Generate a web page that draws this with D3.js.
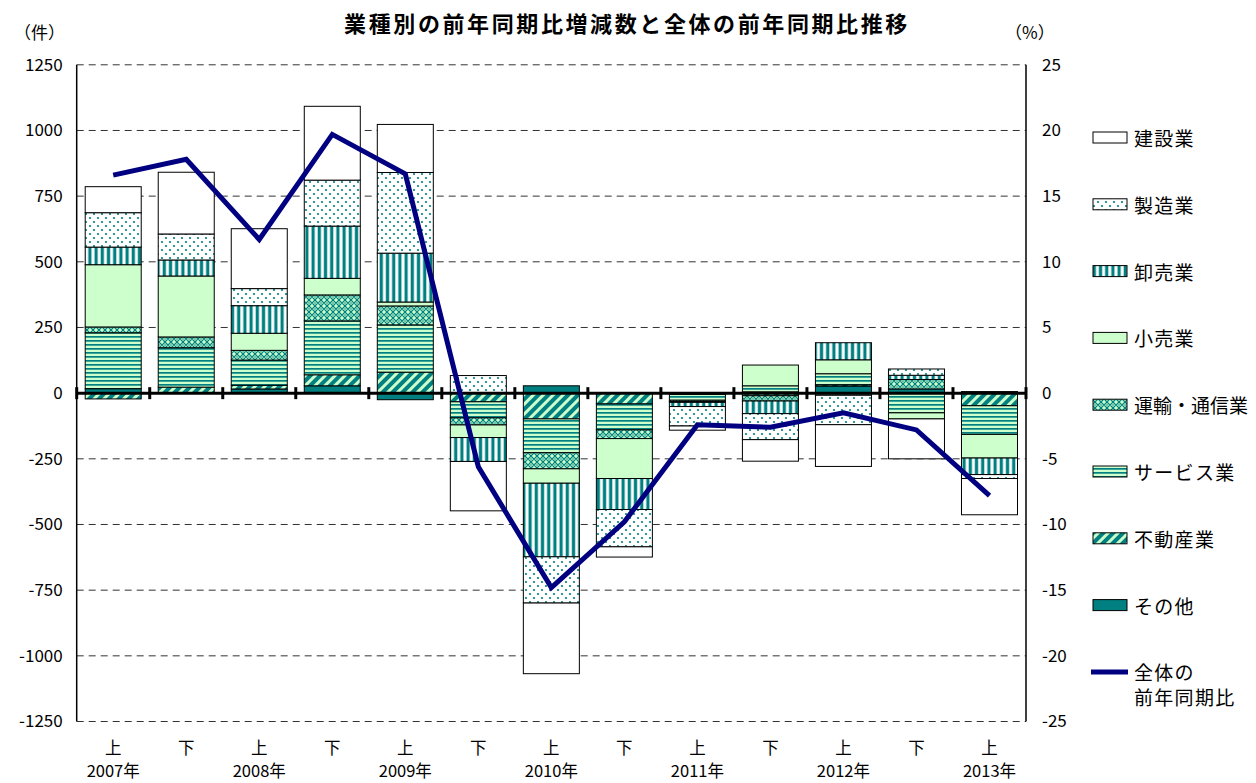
<!DOCTYPE html>
<html><head><meta charset="utf-8">
<script src="https://cdn.jsdelivr.net/npm/d3@7/dist/d3.min.js"></script>
<style>
html,body{margin:0;padding:0;background:#fff;}
svg{display:block;font-family:"Noto Sans CJK JP","Noto Sans",sans-serif;}
</style></head>
<body>
<svg id="chart" width="1256" height="783"></svg>
<script>
// ---- data ----
const periods = ["上","下","上","下","上","下","上","下","上","下","上","下","上"];
const years   = ["2007年","","2008年","","2009年","","2010年","","2011年","","2012年","","2013年"];
const seriesNames = ["その他","不動産業","サービス業","運輸・通信業","小売業","卸売業","製造業","建設業"];
const other        = [17, 0, 16, 28, -25, 0, 28, 0, 0, 5, 27, 16, 0];
const realEstate   = [-22, 23, 14, 42, 80, -33, -98, -41, -5, -10, 5, 0, -48];
const services     = [213, 150, 96, 205, 180, -61, -129, -99, -22, 23, 42, -75, -109];
const transport    = [22, 41, 37, 99, 72, -27, -61, -33, -5, -20, -8, 36, 6];
const retail       = [237, 232, 65, 63, 15, -48, -55, -152, -3, 79, 53, -23, -90];
const wholesale    = [67, 61, 105, 199, 186, -91, -280, -118, -16, -48, 65, 16, -63];
const manufacturing= [131, 99, 65, 175, 307, 67, -176, -142, -74, -99, -112, 24, -15];
const construction = [99, 235, 228, 281, 183, -188, -269, -39, -16, -82, -159, -152, -138];
const totalYoY     = [16.6, 17.8, 11.7, 19.7, 16.7, -5.6, -14.8, -9.8, -2.4, -2.6, -1.5, -2.8, -7.8];
const leftTicks    = [1250,1000,750,500,250,0,-250,-500,-750,-1000,-1250];
const leftTickLabels = ["1250","1000","750","500","250","0","-250","-500","-750","-1000","-1250"];
const rightTicks   = [25,20,15,10,5,0,-5,-10,-15,-20,-25];
const rightTickLabels = ["25","20","15","10","5","0","-5","-10","-15","-20","-25"];
const legendOrder  = ["建設業","製造業","卸売業","小売業","運輸・通信業","サービス業","不動産業","その他"];
const lineLegend   = ["全体の","前年同期比"];
const titleText = "業種別の前年同期比増減数と全体の前年同期比推移";

const seriesValues = [other, realEstate, services, transport, retail, wholesale, manufacturing, construction];

// ---- layout ----
const L = 76.7, R = 1026, T = 64.8, B = 721.5;
const TEAL = "#008080", PALE = "#ccffcc";
const svg = d3.select("#chart");

const idx = d3.range(periods.length);
const x = d3.scaleBand().domain(idx).range([L, R]).paddingInner(0.233).paddingOuter(0.1165);
const band = (R - L) / periods.length;
const yL = d3.scaleLinear().domain([-1250, 1250]).range([B, T]);
const yR = d3.scaleLinear().domain([-25, 25]).range([B, T]);

// ---- patterns ----
const defs = svg.append("defs");
const pid = {"不動産業":"p-re","サービス業":"p-svc","運輸・通信業":"p-trn","卸売業":"p-whl","製造業":"p-mfg"};
let p = defs.append("pattern").attr("id","p-mfg").attr("patternUnits","userSpaceOnUse").attr("width",8).attr("height",8);
p.append("rect").attr("width",8).attr("height",8).attr("fill","#fff");
p.append("circle").attr("cx",2).attr("cy",2).attr("r",1.1).attr("fill",TEAL);
p.append("circle").attr("cx",6).attr("cy",6).attr("r",1.1).attr("fill",TEAL);
p = defs.append("pattern").attr("id","p-whl").attr("patternUnits","userSpaceOnUse").attr("width",6.2).attr("height",6);
p.append("rect").attr("width",6.2).attr("height",6).attr("fill","#fff");
p.append("rect").attr("x",1.5).attr("width",3.2).attr("height",6).attr("fill",TEAL);
p = defs.append("pattern").attr("id","p-svc").attr("patternUnits","userSpaceOnUse").attr("width",6).attr("height",4);
p.append("rect").attr("width",6).attr("height",4).attr("fill",PALE);
p.append("rect").attr("y",0).attr("width",6).attr("height",1.7).attr("fill",TEAL);
p = defs.append("pattern").attr("id","p-trn").attr("patternUnits","userSpaceOnUse").attr("width",6).attr("height",6);
p.append("rect").attr("width",6).attr("height",6).attr("fill",PALE);
p.append("path").attr("d","M0,3 L3,0 L6,3 L3,6 Z").attr("fill","none").attr("stroke",TEAL).attr("stroke-width",1.2);
p.append("circle").attr("cx",3).attr("cy",3).attr("r",0.8).attr("fill",TEAL);
p = defs.append("pattern").attr("id","p-re").attr("patternUnits","userSpaceOnUse").attr("width",7).attr("height",7).attr("patternTransform","rotate(45)");
p.append("rect").attr("width",7).attr("height",7).attr("fill",PALE);
p.append("rect").attr("width",4).attr("height",7).attr("fill",TEAL);

const fillFor = name => {
  if (name === "その他") return TEAL;
  if (name === "小売業") return PALE;
  if (name === "建設業") return "#fff";
  return "url(#" + pid[name] + ")";
};

// ---- gridlines ----
const grid = svg.append("g");
grid.selectAll("line").data(leftTicks.filter(v => v !== 0)).join("line")
  .attr("x1", L).attr("x2", R).attr("y1", d => yL(d)).attr("y2", d => yL(d))
  .attr("stroke", "#333").attr("stroke-width", 1).attr("stroke-dasharray", "7,5");

// ---- stacked bars ----
const table = idx.map(i => { const o = {i}; seriesNames.forEach((n, k) => o[n] = seriesValues[k][i]); return o; });
const stack = d3.stack().keys(seriesNames).offset(d3.stackOffsetDiverging)(table);
const gBars = svg.append("g");
stack.forEach(s => {
  gBars.append("g").selectAll("rect").data(s.filter(d => d[1] !== d[0])).join("rect")
    .attr("x", d => x(d.data.i))
    .attr("width", x.bandwidth())
    .attr("y", d => yL(Math.max(d[0], d[1])))
    .attr("height", d => Math.abs(yL(d[0]) - yL(d[1])))
    .attr("fill", fillFor(s.key))
    .attr("stroke", "#000").attr("stroke-width", 1);
});

// ---- plot border ----
svg.append("line").attr("x1", L).attr("x2", L).attr("y1", T).attr("y2", B).attr("stroke", "#000").attr("stroke-width", 1.5);
svg.append("line").attr("x1", R).attr("x2", R).attr("y1", T).attr("y2", B).attr("stroke", "#000").attr("stroke-width", 1.5);

// ---- zero axis with ticks ----
const y0 = yL(0);
svg.append("line").attr("x1", L).attr("x2", R).attr("y1", y0).attr("y2", y0).attr("stroke", "#000").attr("stroke-width", 3);
svg.append("g").selectAll("line").data(d3.range(periods.length + 1)).join("line")
  .attr("x1", d => L + d * band).attr("x2", d => L + d * band)
  .attr("y1", y0 - 6).attr("y2", y0 + 6)
  .attr("stroke", "#000").attr("stroke-width", 3);

// ---- line ----
const line = d3.line().x((d, i) => x(i) + x.bandwidth() / 2).y(d => yR(d));
svg.append("path").datum(totalYoY).attr("d", line)
  .attr("fill", "none").attr("stroke", "#000080").attr("stroke-width", 5).attr("stroke-linejoin", "miter");

// ---- axes ----
const axL = svg.append("g").attr("transform", `translate(${L - 14},0)`)
  .call(d3.axisLeft(yL).tickValues(leftTicks).tickFormat((d, i) => leftTickLabels[i]).tickSize(0).tickPadding(0));
axL.select(".domain").remove();
axL.selectAll("text").attr("font-size", 17).attr("fill", "#000").attr("font-family", "'Noto Sans CJK JP',sans-serif");

const axR = svg.append("g").attr("transform", `translate(${R + 16},0)`)
  .call(d3.axisRight(yR).tickValues(rightTicks).tickFormat((d, i) => rightTickLabels[i]).tickSize(0).tickPadding(0));
axR.select(".domain").remove();
axR.selectAll("text").attr("font-size", 17).attr("fill", "#000").attr("font-family", "'Noto Sans CJK JP',sans-serif");

// x labels
const xl = svg.append("g");
xl.selectAll("text.p").data(periods).join("text").attr("class", "p")
  .attr("x", (d, i) => x(i) + x.bandwidth() / 2).attr("y", 754)
  .attr("text-anchor", "middle")
  .attr("font-size", 16.5).text(d => d);
xl.selectAll("text.y").data(years).join("text").attr("class", "y")
  .attr("x", (d, i) => x(i) + x.bandwidth() / 2).attr("y", 777)
  .attr("text-anchor", "middle")
  .attr("font-size", 16.5).text(d => d);

// units
svg.append("text").attr("x", 14).attr("y", 31).attr("dominant-baseline", "central").attr("font-size", 17).text("（件）");
svg.append("text").attr("x", 1005).attr("y", 31).attr("dominant-baseline", "central").attr("font-size", 17).text("（%）");

// title
svg.append("text").attr("x", 627).attr("y", 22).attr("text-anchor", "middle").attr("dominant-baseline", "central")
  .attr("font-size", 22).attr("font-weight", "bold").attr("letter-spacing", "2.6px").text(titleText);

// ---- legend ----
const lg = svg.append("g");
const legY = d3.scaleLinear().domain([0, 1]).range([137.5, 204.3]);
legendOrder.forEach((name, i) => {
  const cy = legY(i);
  lg.append("rect").attr("x", 1093).attr("y", cy - 5.5).attr("width", 34).attr("height", 11)
    .attr("fill", fillFor(name)).attr("stroke", "#000").attr("stroke-width", 1);
  lg.append("text").attr("x", 1134).attr("y", cy).attr("dominant-baseline", "central")
    .attr("font-size", 19).attr("letter-spacing", name.length > 5 ? "0px" : "1.3px").text(name);
});
const ly = legY(legendOrder.length);
lg.append("line").attr("x1", 1091).attr("x2", 1128).attr("y1", ly).attr("y2", ly)
  .attr("stroke", "#000080").attr("stroke-width", 5);
lineLegend.forEach((t, k) => {
  lg.append("text").attr("x", 1134).attr("y", ly + k * 25).attr("dominant-baseline", "central")
    .attr("font-size", 19).attr("letter-spacing", "1.3px").text(t);
});
</script>
</body></html>
